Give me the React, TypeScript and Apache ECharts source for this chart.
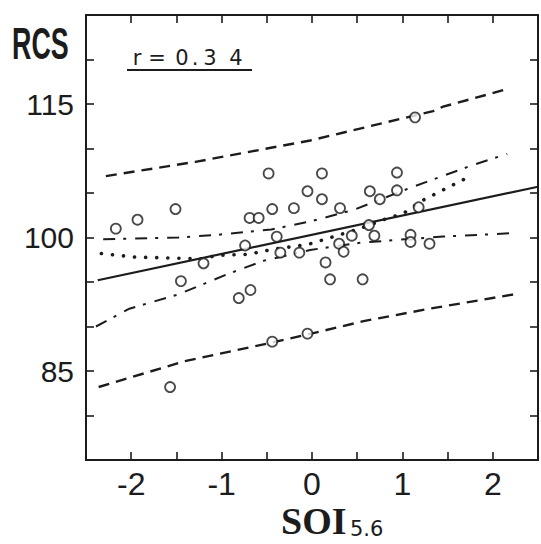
import React, { useEffect, useRef } from "react";
import * as echarts from "echarts";

// Observations (SOI_5,6 vs RCS)
const soiValues = [
  -2.17, -1.93, -1.51, -1.45, -1.57, -1.2, -0.74, -0.81, -0.68, -0.69,
  -0.59, -0.48, -0.44, -0.39, -0.35, -0.2, -0.14, -0.05, -0.44, -0.05,
  0.11, 0.11, 0.15, 0.2, 0.31, 0.3, 0.35, 0.44, 0.56, 0.64,
  0.63, 0.69, 0.75, 0.94, 0.94, 1.18, 1.14, 1.09, 1.09, 1.3,
];
const rcsValues = [
  101.0, 102.0, 103.2, 95.1, 83.2, 97.1, 99.1, 93.2, 94.1, 102.2,
  102.2, 107.2, 103.2, 100.1, 98.3, 103.3, 98.3, 105.2, 88.3, 89.2,
  107.2, 104.3, 97.2, 95.3, 103.3, 99.3, 98.4, 100.2, 95.3, 105.2,
  101.4, 100.2, 104.3, 107.3, 105.3, 103.4, 113.5, 100.3, 99.5, 99.3,
];

// Regression line
const regX = [-2.37, 2.5];
const regY = [95.2, 105.7];

// Confidence band (dash-dot)
const ciUpperX = [-2.31, -1.48, -1.05, -0.45, -0.02, 0.46, 1.04, 1.74, 2.16];
const ciUpperY = [99.8, 100.0, 100.3, 100.9, 101.8, 103.1, 105.4, 108.0, 109.4];
const ciLowerX = [-2.39, -2.02, -1.48, -0.93, -0.53, -0.02, 0.53, 0.9, 1.45, 2.25];
const ciLowerY = [90.0, 92.0, 93.6, 95.9, 97.4, 98.6, 99.4, 99.7, 100.1, 100.5];

// Prediction band (dashed)
const piUpperX = [-2.28, -1.29, -0.02, 0.35, 1.34, 1.45, 1.99, 2.16];
const piUpperY = [106.9, 108.5, 110.9, 111.8, 114.2, 114.7, 116.2, 116.7];
const piLowerX = [-2.36, -1.41, -0.44, -0.05, 0.57, 1.3, 2.23];
const piLowerY = [83.2, 86.1, 88.2, 89.1, 90.6, 92.0, 93.6];

// Smoothed curve (dotted)
const smoothX = [-2.33, -1.96, -1.59, -1.23, -1.04, -0.71, -0.42, -0.05, 0.24, 0.5, 0.82, 1.01, 1.23, 1.52, 1.73];
const smoothY = [98.2, 97.8, 97.7, 97.6, 98.0, 98.1, 98.7, 99.2, 100.1, 100.9, 102.1, 102.7, 104.2, 105.7, 106.8];

const xTickLabels = [-2, -1, 0, 1, 2];
const yTickLabels = [85, 100, 115];

const INK = "#1c1c1c";

const zip = (xs: number[], ys: number[]) => xs.map((x, i) => [x, ys[i]]);

export default function App() {
  const ref = useRef<HTMLDivElement>(null);

  useEffect(() => {
    if (!ref.current) return;
    const chart = echarts.init(ref.current, null, { renderer: "svg" });

    const lineSeries = (data: number[][], type: any, width: number, cap: any = "butt") => ({
      type: "line",
      data,
      showSymbol: false,
      symbol: "none",
      smooth: false,
      silent: true,
      z: 2,
      lineStyle: { color: INK, width, type, cap },
    });

    const tickCommon = {
      show: true,
      inside: true,
      length: 8,
      lineStyle: { color: INK, width: 1.6 },
    };
    const noLine = { show: false, onZero: false };

    const charText = (ch: string, cx: number) => ({
      type: "text",
      x: cx,
      y: 57.5,
      style: {
        text: ch,
        fontFamily: "DejaVu Sans",
        fontSize: 21,
        fill: INK,
        textAlign: "center",
        textVerticalAlign: "middle",
      },
    });

    chart.setOption({
      animation: false,
      backgroundColor: "#ffffff",
      grid: {
        show: true,
        left: 86,
        right: -2,
        top: 15,
        bottom: 84,
        borderColor: INK,
        borderWidth: 2,
        backgroundColor: "transparent",
      },
      xAxis: [
        {
          type: "value",
          min: -2.5,
          max: 2.5,
          interval: 0.5,
          position: "bottom",
          axisLine: noLine,
          axisTick: tickCommon,
          splitLine: { show: false },
          axisLabel: {
            margin: 8,
            fontFamily: "Liberation Sans",
            fontSize: 32,
            color: INK,
            formatter: (v: number) =>
              xTickLabels.some((t) => Math.abs(t - v) < 1e-9) ? String(Math.round(v)) : "",
          },
        },
        {
          type: "value",
          min: -2.5,
          max: 2.5,
          interval: 0.5,
          position: "top",
          axisLine: noLine,
          axisTick: tickCommon,
          splitLine: { show: false },
          axisLabel: { show: false },
        },
      ],
      yAxis: [
        {
          type: "value",
          min: 75,
          max: 125,
          interval: 5,
          position: "left",
          axisLine: noLine,
          axisTick: tickCommon,
          splitLine: { show: false },
          axisLabel: {
            margin: 12,
            fontFamily: "Liberation Sans",
            fontSize: 30,
            color: INK,
            formatter: (v: number) =>
              yTickLabels.some((t) => Math.abs(t - v) < 1e-9) ? String(v) : "",
          },
        },
        {
          type: "value",
          min: 75,
          max: 125,
          interval: 5,
          position: "right",
          axisLine: noLine,
          axisTick: tickCommon,
          splitLine: { show: false },
          axisLabel: { show: false },
        },
      ],
      series: [
        lineSeries(zip(piUpperX, piUpperY), [11, 7], 2.4),
        lineSeries(zip(piLowerX, piLowerY), [11, 7], 2.4),
        lineSeries(zip(ciUpperX, ciUpperY), [12, 8, 3, 9], 2),
        lineSeries(zip(ciLowerX, ciLowerY), [12, 8, 3, 9], 2),
        lineSeries(zip(regX, regY), "solid", 2.2),
        lineSeries(zip(smoothX, smoothY), [0.1, 11], 3.6, "round"),
        {
          type: "scatter",
          data: zip(soiValues, rcsValues),
          symbol: "circle",
          symbolSize: 10,
          silent: true,
          z: 5,
          itemStyle: { color: "#ffffff", borderColor: INK, borderWidth: 1.8 },
        },
      ],
      graphic: [
        {
          type: "text",
          x: 12,
          y: 44,
          scaleX: 0.61,
          style: {
            text: "RCS",
            fontFamily: "Liberation Sans",
            fontWeight: "bold",
            fontSize: 44,
            lineHeight: 40,
            fill: INK,
            textAlign: "left",
            textVerticalAlign: "middle",
          },
        },
        charText("r", 137),
        charText("=", 157),
        charText("0", 182),
        charText(".", 195),
        charText("3", 210),
        charText("4", 236),
        {
          type: "line",
          shape: { x1: 127, y1: 70, x2: 252, y2: 70 },
          style: { stroke: INK, lineWidth: 2 },
        },
        {
          type: "text",
          x: 281,
          y: 521,
          style: {
            text: "SOI",
            fontFamily: "Liberation Serif",
            fontWeight: "bold",
            fontSize: 38,
            lineHeight: 32,
            fill: INK,
            textAlign: "left",
            textVerticalAlign: "middle",
          },
        },
        {
          type: "text",
          x: 350,
          y: 529,
          style: {
            text: "5.6",
            fontFamily: "DejaVu Sans",
            fontSize: 21,
            lineHeight: 20,
            fill: INK,
            textAlign: "left",
            textVerticalAlign: "middle",
          },
        },
      ],
    });

    return () => chart.dispose();
  }, []);

  return (
    <div
      ref={ref}
      style={{ position: "fixed", left: 0, top: 0, width: 541, height: 544, background: "#fff" }}
    />
  );
}
